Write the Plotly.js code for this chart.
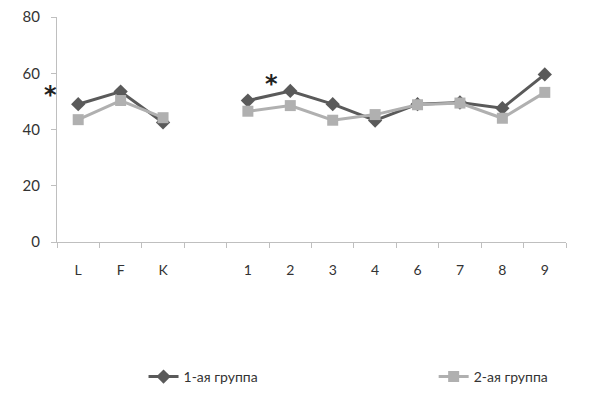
<!DOCTYPE html>
<html><head><meta charset="utf-8">
<script src="https://cdn.plot.ly/plotly-3.0.1.min.js"></script>
<style>html,body{margin:0;padding:0;background:#fff;}#chart{width:609px;height:397px;}</style>
</head><body><div id="chart"></div>
<script>
const categories = ["L", "F", "K", " ", "1", "2", "3", "4", "6", "7", "8", "9"];
const group1 = [49, 53.5, 42.5, null, 50.3, 53.7, 49, 43.2, 49, 49.6, 47.6, 59.6];
const group2 = [43.5, 50.3, 44.2, null, 46.5, 48.5, 43.3, 45.3, 48.8, 49.4, 44, 53.2];
const seriesNames = ["1-ая группа", "2-ая группа"];
const yTicks = [0, 20, 40, 60, 80];

const font = "Lato, 'Open Sans', sans-serif";
const traces = [
  {x: categories, y: group1, name: seriesNames[0], type: "scatter", mode: "lines+markers",
   connectgaps: false, line: {color: "#5a5a5a", width: 3}, legend: "legend",
   marker: {symbol: "diamond", size: 11, color: "#5a5a5a"}},
  {x: categories, y: group2, name: seriesNames[1], type: "scatter", mode: "lines+markers",
   connectgaps: false, line: {color: "#b0b0b0", width: 3}, legend: "legend2",
   marker: {symbol: "square", size: 11, color: "#b0b0b0"}}
];
const legendBase = {orientation: "h", xanchor: "left", yanchor: "middle", y: -0.6,
                    font: {size: 14, color: "#333"}, bgcolor: "rgba(0,0,0,0)"};
const layout = {
  width: 609, height: 397,
  margin: {l: 57, r: 43, t: 17, b: 155, autoexpand: false},
  paper_bgcolor: "#fff", plot_bgcolor: "#fff",
  font: {family: font, size: 14, color: "#333"},
  showlegend: true,
  legend: Object.assign({}, legendBase, {x: 0.17}),
  legend2: Object.assign({}, legendBase, {x: 0.74}),
  xaxis: {type: "category", categoryorder: "array", categoryarray: categories,
          range: [-0.5, 11.5], tickson: "boundaries", ticks: "outside", ticklen: 5,
          tickcolor: "#bfbfbf", showline: true, linecolor: "#bfbfbf", linewidth: 1,
          showgrid: false, zeroline: false, ticklabelstandoff: 15, fixedrange: true},
  yaxis: {range: [0, 80], tickvals: yTicks, ticks: "outside", ticklen: 5,
          tickcolor: "#bfbfbf", showline: true, linecolor: "#bfbfbf", linewidth: 1,
          showgrid: false, zeroline: false, ticklabelstandoff: 8, fixedrange: true,
          tickfont: {size: 15}},
  annotations: [
    {x: -0.03, y: 0.725, xref: "paper", yref: "y domain", text: "<b>*</b>", showarrow: false,
     font: {size: 24, family: "DejaVu Sans", color: "#222"}},
    {x: 4.55, y: 0.775, xref: "x", yref: "y domain", text: "<b>*</b>", showarrow: false,
     font: {size: 24, family: "DejaVu Sans", color: "#222"}}
  ]
};
Plotly.newPlot("chart", traces, layout, {displayModeBar: false, staticPlot: true});
</script></body></html>
